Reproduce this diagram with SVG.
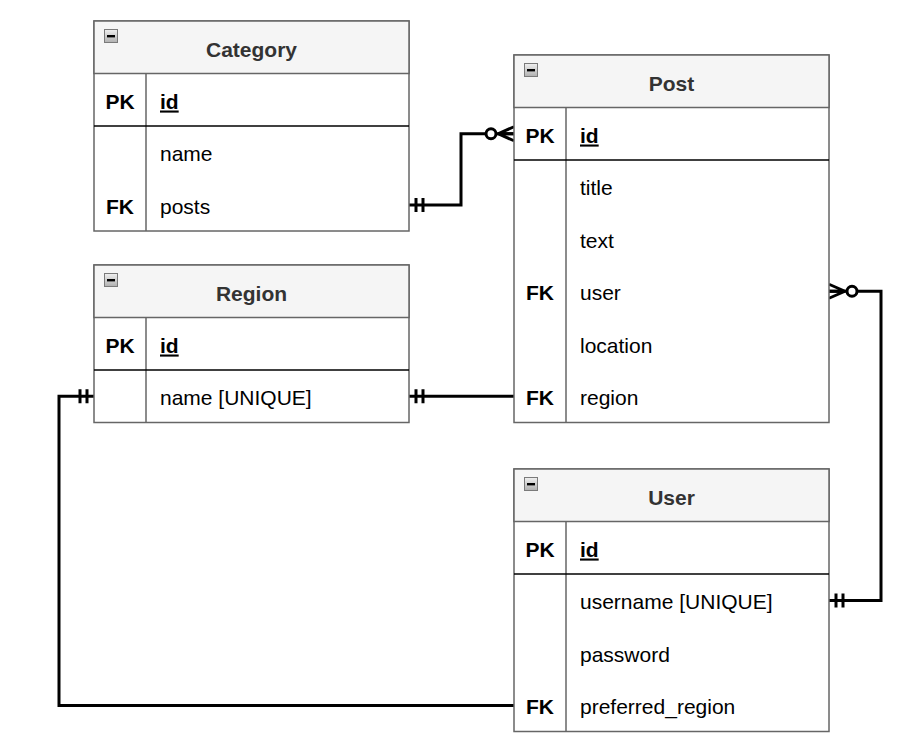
<svg xmlns="http://www.w3.org/2000/svg" width="922" height="749" viewBox="0 0 922 749">
  <defs>
    <style>
      text { font-family: "Liberation Sans", Arial, Helvetica, sans-serif; font-size: 21px; fill: #000; }
      .title { font-weight: bold; fill: #333333; text-anchor: middle; }
      .key { font-weight: bold; text-anchor: middle; }
      .pk { font-weight: bold; text-decoration: underline; }
      .box { fill: #ffffff; stroke: #666666; stroke-width: 1.5; }
      .head { fill: #f5f5f5; stroke: #666666; stroke-width: 1.5; }
      .div { stroke: #666666; stroke-width: 1.5; fill: none; }
      .sep { stroke: #000000; stroke-width: 1.5; fill: none; }
      .edge { fill: none; stroke: #000000; stroke-width: 3; }
      .tick { fill: none; stroke: #000000; stroke-width: 3; }
    </style>
    <linearGradient id="btnFill" x1="0" y1="0" x2="0" y2="1">
      <stop offset="0" stop-color="#f0f0f0"/>
      <stop offset="1" stop-color="#b0b0b0"/>
    </linearGradient>
    <!-- collapse button shown in each table header -->
    <g id="collapseBtn">
      <rect x="0.5" y="0.5" width="13" height="13" fill="url(#btnFill)" stroke="#7a7a7a" stroke-width="1"/>
      <rect x="3" y="6" width="8" height="2.4" fill="#000000"/>
    </g>
    <!-- exactly one: two bars near the entity edge -->
    <marker id="mandOne" viewBox="-30 -12 32 24" markerWidth="32" markerHeight="24" refX="0" refY="0" markerUnits="userSpaceOnUse" orient="auto-start-reverse" overflow="visible">
      <path class="tick" d="M-7,-7 V7 M-14,-7 V7"/>
    </marker>
    <!-- zero or many: circle plus crow's foot -->
    <marker id="zeroMany" viewBox="-32 -12 34 24" markerWidth="34" markerHeight="24" refX="0" refY="0" markerUnits="userSpaceOnUse" orient="auto-start-reverse" overflow="visible">
      <path class="tick" d="M-16,0 L0,-7 M-16,0 L0,0 M-16,0 L0,7"/>
      <circle cx="-23" cy="0" r="5" fill="#ffffff" stroke="#000000" stroke-width="3"/>
    </marker>
  </defs>

  <rect x="0" y="0" width="922" height="749" fill="#ffffff"/>

  <!-- relationships -->
  <g id="connectors">
    <path class="edge" d="M409,205 H461 V133.75 H514" marker-start="url(#mandOne)" marker-end="url(#zeroMany)"/>
    <path class="edge" d="M829,291.25 H881 V600.5 H829" marker-start="url(#zeroMany)" marker-end="url(#mandOne)"/>
    <path class="edge" d="M409,396.25 H514" marker-start="url(#mandOne)"/>
    <path class="edge" d="M94,396.25 H59 V705.5 H514" marker-start="url(#mandOne)"/>
  </g>

  <!-- Category table -->
  <g id="category">
    <rect class="box" x="94" y="21" width="315" height="210"/>
    <rect class="head" x="94" y="21" width="315" height="52.5"/>
    <use href="#collapseBtn" x="104" y="29"/>
    <text class="title" x="251.5" y="56.5">Category</text>
    <line class="div" x1="146" y1="73.5" x2="146" y2="231"/>
    <line class="sep" x1="94" y1="126" x2="409" y2="126"/>
    <text class="key" x="120" y="108.5">PK</text>
    <text class="pk" x="160" y="108.5">id</text>
    <text x="160" y="161">name</text>
    <text class="key" x="120" y="213.5">FK</text>
    <text x="160" y="213.5">posts</text>
  </g>

  <!-- Region table -->
  <g id="region">
    <rect class="box" x="94" y="265" width="315" height="157.5"/>
    <rect class="head" x="94" y="265" width="315" height="52.5"/>
    <use href="#collapseBtn" x="104" y="273"/>
    <text class="title" x="251.5" y="300.5">Region</text>
    <line class="div" x1="146" y1="317.5" x2="146" y2="422.5"/>
    <line class="sep" x1="94" y1="370" x2="409" y2="370"/>
    <text class="key" x="120" y="352.5">PK</text>
    <text class="pk" x="160" y="352.5">id</text>
    <text x="160" y="405">name [UNIQUE]</text>
  </g>

  <!-- Post table -->
  <g id="post">
    <rect class="box" x="514" y="55" width="315" height="367.5"/>
    <rect class="head" x="514" y="55" width="315" height="52.5"/>
    <use href="#collapseBtn" x="524" y="63"/>
    <text class="title" x="671.5" y="90.5">Post</text>
    <line class="div" x1="566" y1="107.5" x2="566" y2="422.5"/>
    <line class="sep" x1="514" y1="160" x2="829" y2="160"/>
    <text class="key" x="540" y="142.5">PK</text>
    <text class="pk" x="580" y="142.5">id</text>
    <text x="580" y="195">title</text>
    <text x="580" y="247.5">text</text>
    <text class="key" x="540" y="300">FK</text>
    <text x="580" y="300">user</text>
    <text x="580" y="352.5">location</text>
    <text class="key" x="540" y="405">FK</text>
    <text x="580" y="405">region</text>
  </g>

  <!-- User table -->
  <g id="user">
    <rect class="box" x="514" y="469" width="315" height="262.5"/>
    <rect class="head" x="514" y="469" width="315" height="52.5"/>
    <use href="#collapseBtn" x="524" y="477"/>
    <text class="title" x="671.5" y="504.5">User</text>
    <line class="div" x1="566" y1="521.5" x2="566" y2="731.5"/>
    <line class="sep" x1="514" y1="574" x2="829" y2="574"/>
    <text class="key" x="540" y="556.5">PK</text>
    <text class="pk" x="580" y="556.5">id</text>
    <text x="580" y="609">username [UNIQUE]</text>
    <text x="580" y="661.5">password</text>
    <text class="key" x="540" y="714">FK</text>
    <text x="580" y="714">preferred_region</text>
  </g>
</svg>
